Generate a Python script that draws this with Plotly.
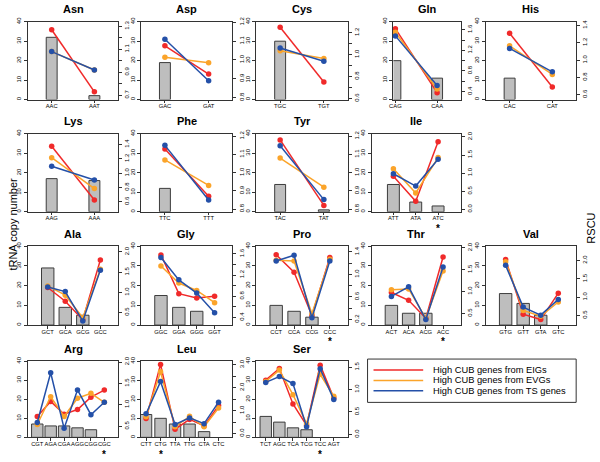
import plotly.graph_objects as go

W, H = 600, 462

# ---------------- data ----------------
amino_acids = ["Asn", "Asp", "Cys", "Gln", "His",
               "Lys", "Phe", "Tyr", "Ile",
               "Ala", "Gly", "Pro", "Thr", "Val",
               "Arg", "Leu", "Ser"]

codons = {
    "Asn": ["AAC", "AAT"], "Asp": ["GAC", "GAT"], "Cys": ["TGC", "TGT"],
    "Gln": ["CAG", "CAA"], "His": ["CAC", "CAT"],
    "Lys": ["AAG", "AAA"], "Phe": ["TTC", "TTT"], "Tyr": ["TAC", "TAT"],
    "Ile": ["ATT", "ATA", "ATC"],
    "Ala": ["GCT", "GCA", "GCG", "GCC"], "Gly": ["GGC", "GGA", "GGG", "GGT"],
    "Pro": ["CCT", "CCA", "CCG", "CCC"], "Thr": ["ACT", "ACA", "ACG", "ACC"],
    "Val": ["GTG", "GTT", "GTA", "GTC"],
    "Arg": ["CGT", "AGA", "CGA", "AGG", "CGG", "CGC"],
    "Leu": ["CTT", "CTG", "TTA", "TTG", "CTA", "CTC"],
    "Ser": ["TCT", "AGC", "TCA", "TCG", "TCC", "AGT"],
}

starred = {"Ile": "ATC", "Pro": "CCC", "Thr": "ACC", "Arg": "CGC", "Leu": "CTG", "Ser": "TCC"}

trna_copy = {
    "Asn": [32, 2], "Asp": [19, 0], "Cys": [30, 0], "Gln": [20, 11], "His": [11, 0],
    "Lys": [17, 16], "Phe": [12, 0], "Tyr": [14, 1], "Ile": [14, 5, 3],
    "Ala": [29, 9, 5, 0], "Gly": [15, 9, 7, 0], "Pro": [10, 7, 4, 0],
    "Thr": [10, 6, 6, 0], "Val": [16, 11, 5, 0],
    "Arg": [7, 6, 6, 5, 4, 0], "Leu": [12, 10, 7, 7, 3, 0], "Ser": [11, 8, 5, 4, 0, 0],
}

rscu_eig = {  # High CUB genes from EIGs (red)
    "Asn": [1.27, 0.73], "Asp": [1.075, 0.925], "Cys": [1.25, 0.75], "Gln": [1.62, 0.38],
    "His": [1.31, 0.69], "Lys": [1.375, 0.625], "Phe": [1.13, 0.87], "Tyr": [1.18, 0.82],
    "Ile": [0.91, 0.22, 1.87],
    "Ala": [1.12, 0.78, 0.32, 1.80], "Gly": [1.58, 0.85, 0.77, 0.80],
    "Pro": [1.35, 1.04, 0.27, 1.30], "Thr": [0.98, 0.80, 0.39, 1.79],
    "Val": [2.03, 0.535, 0.39, 1.11],
    "Arg": [0.73, 1.08, 0.78, 0.89, 1.18, 1.345],
    "Leu": [0.65, 3.02, 0.185, 0.615, 0.33, 1.22],
    "Ser": [1.21, 1.47, 0.68, 0.20, 1.545, 0.81],
}
rscu_evg = {  # High CUB genes from EVGs (orange)
    "Asn": [1.08, 0.92], "Asp": [1.015, 0.985], "Cys": [1.035, 0.965], "Gln": [1.55, 0.45],
    "His": [1.165, 0.835], "Lys": [1.215, 0.785], "Phe": [1.07, 0.93], "Tyr": [1.08, 0.92],
    "Ile": [1.12, 0.45, 1.43],
    "Ala": [1.16, 0.93, 0.37, 1.57], "Gly": [1.37, 1.05, 0.91, 0.68],
    "Pro": [1.25, 1.24, 0.30, 1.27], "Thr": [1.04, 1.06, 0.39, 1.47],
    "Val": [1.97, 0.64, 0.48, 0.87],
    "Arg": [0.54, 1.19, 0.73, 1.155, 1.27, 1.06],
    "Leu": [0.73, 2.70, 0.29, 0.75, 0.29, 1.11],
    "Ser": [1.18, 1.435, 0.886, 0.24, 1.34, 0.85],
}
rscu_ts = {  # High CUB genes from TS genes (blue)
    "Asn": [1.08, 0.92], "Asp": [1.11, 0.89], "Cys": [1.06, 0.94], "Gln": [1.48, 0.52],
    "His": [1.135, 0.865], "Lys": [1.095, 0.905], "Phe": [1.15, 0.85], "Tyr": [1.148, 0.852],
    "Ile": [0.98, 0.64, 1.38],
    "Ala": [1.13, 1.02, 0.29, 1.55], "Gly": [1.53, 1.11, 0.86, 0.49],
    "Pro": [1.24, 1.34, 0.23, 1.24], "Thr": [0.89, 1.11, 0.36, 1.56],
    "Val": [1.87, 0.73, 0.51, 0.94],
    "Arg": [0.586, 1.75, 0.45, 1.35, 0.77, 1.06],
    "Leu": [0.86, 2.27, 0.39, 0.68, 0.43, 1.37],
    "Ser": [1.16, 1.29, 1.136, 0.17, 1.466, 0.776],
}

trna_ticks = [0, 10, 20, 30, 40]
rscu_ticks = {
    "Asn": ([0.7, 0.8, 0.9, 1.0, 1.1, 1.2, 1.3], ["0.7", "", "0.9", "", "1.1", "", "1.3"]),
    "Asp": ([0.8, 0.9, 1.0, 1.1, 1.2], ["0.8", "0.9", "1.0", "1.1", "1.2"]),
    "Cys": ([0.6, 0.7, 0.8, 0.9, 1.0, 1.1, 1.2], ["0.6", "", "0.8", "", "1.0", "", "1.2"]),
    "Gln": ([0.4, 0.6, 0.8, 1.0, 1.2, 1.4, 1.6], ["0.4", "", "0.8", "", "1.2", "", "1.6"]),
    "His": ([0.6, 0.8, 1.0, 1.2, 1.4], ["0.6", "0.8", "1.0", "1.2", "1.4"]),
    "Lys": ([0.6, 0.8, 1.0, 1.2, 1.4], ["0.6", "0.8", "1.0", "1.2", "1.4"]),
    "Phe": ([0.8, 0.9, 1.0, 1.1, 1.2], ["0.8", "0.9", "1.0", "1.1", "1.2"]),
    "Tyr": ([0.8, 0.9, 1.0, 1.1, 1.2], ["0.8", "0.9", "1.0", "1.1", "1.2"]),
    "Ile": ([0, 0.5, 1, 1.5, 2], ["0.0", "0.5", "1.0", "1.5", "2.0"]),
    "Ala": ([0.5, 1, 1.5, 2], ["0.5", "1.0", "1.5", "2.0"]),
    "Gly": ([0.4, 0.6, 0.8, 1.0, 1.2, 1.4, 1.6], ["0.4", "", "0.8", "", "1.2", "", "1.6"]),
    "Pro": ([0.2, 0.4, 0.6, 0.8, 1.0, 1.2, 1.4], ["0.2", "", "0.6", "", "1.0", "", "1.4"]),
    "Thr": ([0.5, 1, 1.5, 2], ["0.5", "1.0", "1.5", "2.0"]),
    "Val": ([0.5, 1, 1.5, 2], ["0.5", "1.0", "1.5", "2.0"]),
    "Arg": ([0.5, 1, 1.5, 2], ["0.5", "1.0", "1.5", "2.0"]),
    "Leu": ([0, 0.5, 1, 1.5, 2, 2.5, 3], ["0.0", "", "1.0", "", "2.0", "", "3.0"]),
    "Ser": ([0, 0.5, 1, 1.5], ["0.0", "0.5", "1.0", "1.5"]),
}
rscu_range = {
    "Asn": [0.663, 1.34], "Asp": [0.79, 1.203], "Cys": [0.59, 1.30], "Gln": [0.246, 1.754],
    "His": [0.545, 1.443], "Lys": [0.46, 1.55], "Phe": [0.785, 1.214], "Tyr": [0.785, 1.214],
    "Ile": [-0.074, 2.09], "Ala": [0.19, 2.14], "Gly": [0.257, 1.743], "Pro": [0.10, 1.50],
    "Thr": [0.234, 2.036], "Val": [0.24, 2.39], "Arg": [0.24, 2.02], "Leu": [-0.17, 3.16],
    "Ser": [-0.066, 1.633],
}

series_names = ["High CUB genes from EIGs", "High CUB genes from EVGs", "High CUB genes from TS genes"]
series_colors = ["#F02A2A", "#FBA42A", "#2450A8"]

# ---------------- layout geometry (pixels) ----------------
rows_px = [(17, 96), (130.7, 210), (245, 325), (361.7, 439)]
cols_px = [(24, 115), (138, 230), (254, 346), (370, 460), (485, 576)]
grid = [["Asn", "Asp", "Cys", "Gln", "His"],
        ["Lys", "Phe", "Tyr", "Ile"],
        ["Ala", "Gly", "Pro", "Thr", "Val"],
        ["Arg", "Leu", "Ser"]]
box_override = {"Gln": (392, 460)}
# x-placement: (left margin px, right margin px, bar width px)
place = {2: (24, 24, 11), 3: (22, 23, 12), 4: (20, 18, 12.5), 6: (9.5, 14, 11.5)}
place_override = {"Gln": (2, 24, 11), "Leu": (5, 14, 11.5)}

FONT = "Liberation Sans, Arial, Helvetica, sans-serif"
AX = "#333333"

fig = go.Figure()
layout = dict(width=W, height=H, margin=dict(l=0, r=0, t=0, b=0),
              paper_bgcolor="white", plot_bgcolor="white", showlegend=False,
              font=dict(family=FONT, color="black"), bargap=0, hovermode=False)
annotations = []
shapes = []

k = 0
for r, row in enumerate(grid):
    y0, y1 = rows_px[r]
    for c, aa in enumerate(row):
        k += 1
        x0, x1 = box_override.get(aa, cols_px[c])
        n = len(codons[aa])
        L, R, bw = place_override.get(aa, place[n])
        p = (x1 - x0 - L - R) / (n - 1)
        xr = [-L / p, (n - 1) + R / p]
        xs = list(range(n))
        xn = "x" if k == 1 else f"x{k}"
        yl = 2 * k - 1
        yr = 2 * k
        yln = "y" if yl == 1 else f"y{yl}"
        yrn = f"y{yr}"

        bars = [v if v > 0 else None for v in trna_copy[aa]]
        fig.add_trace(go.Bar(x=xs, y=bars, xaxis=xn, yaxis=yln, width=bw / p,
                             marker=dict(color="#BEBEBE", line=dict(color="#3C3C3C", width=1)),
                             showlegend=False))
        for vals, col in zip([rscu_eig[aa], rscu_evg[aa], rscu_ts[aa]], series_colors):
            fig.add_trace(go.Scatter(x=xs, y=vals, xaxis=xn, yaxis=yrn, mode="lines+markers",
                                     line=dict(color=col, width=1.5),
                                     marker=dict(color=col, size=5.5),
                                     cliponaxis=False, showlegend=False))

        dx = [x0 / W, x1 / W]
        dy = [1 - y1 / H, 1 - y0 / H]
        xkey = "xaxis" if k == 1 else f"xaxis{k}"
        layout[xkey] = dict(domain=dx, range=xr, anchor=yln, tickmode="array", tickvals=xs,
                            ticktext=codons[aa], ticks="outside", ticklen=2.5, tickcolor=AX,
                            tickangle=0, tickfont=dict(size=5.8, family=FONT),
                            ticklabelstandoff=-2, showline=True,
                            mirror=True, linecolor=AX, linewidth=1, showgrid=False,
                            zeroline=False, fixedrange=True)
        ylkey = "yaxis" if yl == 1 else f"yaxis{yl}"
        layout[ylkey] = dict(domain=dy, range=[0, 40], anchor=xn, tickmode="array",
                             tickvals=trna_ticks, ticktext=[str(v) for v in trna_ticks],
                             ticks="outside", ticklen=3, tickcolor=AX, tickangle=-90,
                             tickfont=dict(size=6, family=FONT), showline=True,
                             linecolor=AX, linewidth=1, showgrid=False, zeroline=False)
        tv, tt = rscu_ticks[aa]
        layout[f"yaxis{yr}"] = dict(overlaying=yln, side="right", anchor=xn,
                                    range=rscu_range[aa], tickmode="array", tickvals=tv,
                                    ticktext=tt, ticks="outside", ticklen=3, tickcolor=AX,
                                    tickangle=-90, tickfont=dict(size=6, family=FONT),
                                    showline=True, linecolor=AX, linewidth=1,
                                    showgrid=False, zeroline=False)
        annotations.append(dict(text="<b>" + aa + "</b>", x=(x0 + x1) / 2 / W,
                                y=1 - (y0 - 12.5) / H, xref="paper", yref="paper",
                                showarrow=False, xanchor="center", yanchor="middle",
                                font=dict(size=11, family=FONT, color="black")))
        if aa in starred:
            annotations.append(dict(text="<b>*</b>", x=codons[aa].index(starred[aa]),
                                    xref=xn, y=1 - (y1 + 17) / H, yref="paper",
                                    showarrow=False, xanchor="center", yanchor="middle",
                                    font=dict(size=10, family=FONT, color="black")))

# axis titles
annotations.append(dict(text="tRNA copy number", x=9 / W, y=1 - 222 / H, xref="paper",
                        yref="paper", showarrow=False, textangle=-90,
                        xanchor="center", yanchor="middle",
                        font=dict(size=11, family=FONT, color="black")))
annotations.append(dict(text="RSCU", x=590 / W, y=1 - 227 / H, xref="paper",
                        yref="paper", showarrow=False, textangle=-90,
                        xanchor="center", yanchor="middle",
                        font=dict(size=11, family=FONT, color="black")))

# legend box
lx0, lx1, ly0, ly1 = 366, 576, 359.5, 403.5
shapes.append(dict(type="rect", xref="paper", yref="paper", x0=lx0 / W, x1=lx1 / W,
                   y0=1 - ly1 / H, y1=1 - ly0 / H, line=dict(color=AX, width=1),
                   fillcolor="white"))
for i, (nm, col) in enumerate(zip(series_names, series_colors)):
    yy = 370.7 + i * 10.5
    shapes.append(dict(type="line", xref="paper", yref="paper", x0=372 / W, x1=422 / W,
                       y0=1 - yy / H, y1=1 - yy / H, line=dict(color=col, width=1.5)))
    annotations.append(dict(text=nm, x=430 / W, y=1 - yy / H, xref="paper", yref="paper",
                            showarrow=False, xanchor="left", yanchor="middle",
                            font=dict(size=9.3, family=FONT, color="black")))

layout["annotations"] = annotations
layout["shapes"] = shapes
fig.update_layout(**layout)
fig.write_html("out.html", config={"displayModeBar": False, "staticPlot": True},
               post_script="document.body.style.margin='0';document.body.style.overflow='hidden';")
